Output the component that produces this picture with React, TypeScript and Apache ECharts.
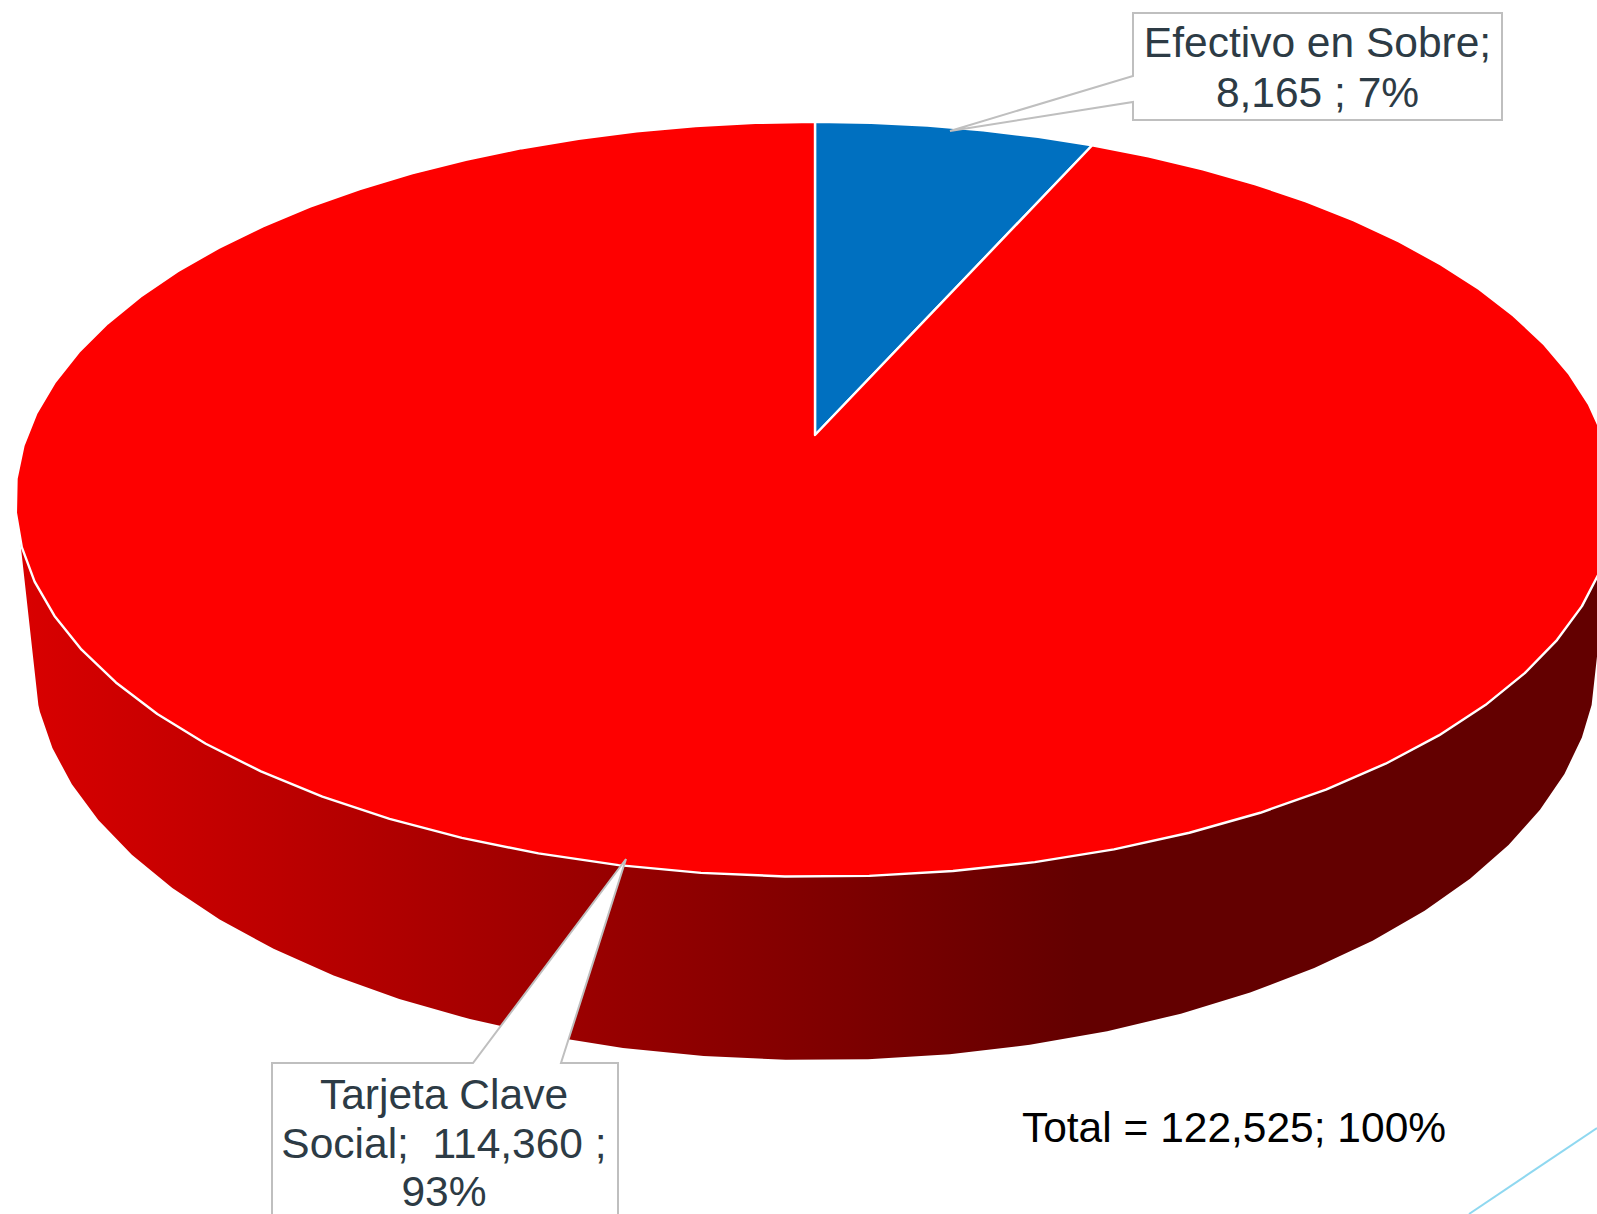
import React, { useEffect, useRef } from "react";
import * as echarts from "echarts";

const categories = ["Efectivo en Sobre", "Tarjeta Clave Social"];
const values = [8165, 114360];
const sliceColors = ["#0070C0", "#FE0000"];
const labelLines = [
  ["Efectivo en Sobre;", "8,165 ; 7%"],
  ["Tarjeta Clave", "Social;  114,360 ;", "93%"],
];
const totalLabel = "Total = 122,525; 100%";

const W = 1597;
const H = 1214;
const FONT = '"Liberation Sans", Arial, sans-serif';
const PERSP = 0.1703;
const SEGMENT_DEG = 5.09;
const total = values.reduce((a, b) => a + b, 0);

// Perspective projection of the pie's top and bottom discs.
function project(deg: number, disc: { cx: number; a: number; k: number; r: number }) {
  const t = (deg * Math.PI) / 180;
  const u = Math.sin(t);
  const v = Math.cos(t);
  const d = 1 + PERSP * v;
  return [disc.cx + (disc.r * u) / d, (disc.a - disc.k * v) / d];
}
const TOP = { cx: 815, a: 435, k: 292.4, r: 788 };
const BOTTOM = { cx: 815, a: 593, k: 286.6, r: 770 };
const WALL_FROM = 106;
const WALL_TO = 254;

// The reference's rim is a faceted polyline with facets of about 5 degrees.
function facetAngles(start: number, end: number) {
  const n = Math.max(1, Math.round((end - start) / SEGMENT_DEG));
  const out: number[] = [];
  for (let i = 0; i <= n; i++) out.push(start + ((end - start) * i) / n);
  return out;
}

const renderSlice = (params: any, api: any) => {
  const start = (api.value(0) / total) * 360;
  const end = (api.value(1) / total) * 360;
  const angles = facetAngles(start, end);
  const children: any[] = [];
  const wa = Math.max(start, WALL_FROM);
  const wb = Math.min(end, WALL_TO);
  if (wb > wa) {
    const wallAngles = [wa, ...angles.filter((d) => d > wa && d < wb), wb];
    children.push({
      type: "polygon",
      shape: {
        points: [
          ...wallAngles.map((d) => project(d, TOP)),
          ...wallAngles.slice().reverse().map((d) => project(d, BOTTOM)),
        ],
      },
      style: {
        fill: new echarts.graphic.LinearGradient(
          20, 0, 1080, 0,
          [
            { offset: 0, color: "#D90000" },
            { offset: 1, color: "#630000" },
          ],
          true
        ),
        stroke: "none",
      },
    });
  }
  children.push({
    type: "polygon",
    shape: { points: [[TOP.cx, TOP.a], ...angles.map((d) => project(d, TOP))] },
    style: { fill: sliceColors[params.dataIndex], stroke: "#FFFFFF", lineWidth: 2.4, lineJoin: "round" },
  });
  return { type: "group", children };
};

function textEl(text: string, x: number, y: number, fill: string) {
  return {
    type: "text",
    z: 20,
    style: { text, x, y, fill, font: `42.5px ${FONT}`, textAlign: "center", textVerticalAlign: "middle" },
  };
}

const calloutStyle = { fill: "#FFFFFF", stroke: "#BFBFBF", lineWidth: 2 };

export default function App() {
  const ref = useRef<HTMLDivElement>(null);
  useEffect(() => {
    const chart = echarts.init(ref.current!, null, { renderer: "svg" });
    let acc = 0;
    const data = values.map((v, i) => {
      const item = { name: categories[i], value: [acc, acc + v] };
      acc += v;
      return item;
    });
    chart.setOption({
      animation: false,
      backgroundColor: "#FFFFFF",
      series: [
        {
          type: "custom",
          coordinateSystem: "none",
          silent: true,
          renderItem: renderSlice,
          data,
          z: 2,
        },
      ],
      graphic: {
        elements: [
          {
            type: "polygon",
            z: 10,
            shape: {
              points: [
                [1133, 13], [1502, 13], [1502, 120], [1133, 120], [1133, 102], [950, 131], [1133, 76],
              ],
            },
            style: calloutStyle,
          },
          {
            type: "polygon",
            z: 10,
            shape: {
              points: [
                [272, 1063], [473, 1063], [626, 859], [561, 1063], [618, 1063], [618, 1240], [272, 1240],
              ],
            },
            style: calloutStyle,
          },
          textEl(labelLines[0][0], 1317.5, 42.5, "#2D3B45"),
          textEl(labelLines[0][1], 1317.5, 92, "#2D3B45"),
          textEl(labelLines[1][0], 444, 1094.5, "#2D3B45"),
          textEl(labelLines[1][1], 444, 1143.5, "#2D3B45"),
          textEl(labelLines[1][2], 444, 1191.5, "#2D3B45"),
          textEl(totalLabel, 1234, 1127.5, "#000000"),
          {
            type: "line",
            z: 5,
            shape: { x1: 1597, y1: 1128, x2: 1469, y2: 1214 },
            style: { stroke: "#8FD8F0", lineWidth: 2 },
          },
        ],
      },
    });
    return () => chart.dispose();
  }, []);
  return (
    <div
      ref={ref}
      style={{ position: "absolute", left: 0, top: 0, width: W, height: H, overflow: "hidden" }}
    />
  );
}
